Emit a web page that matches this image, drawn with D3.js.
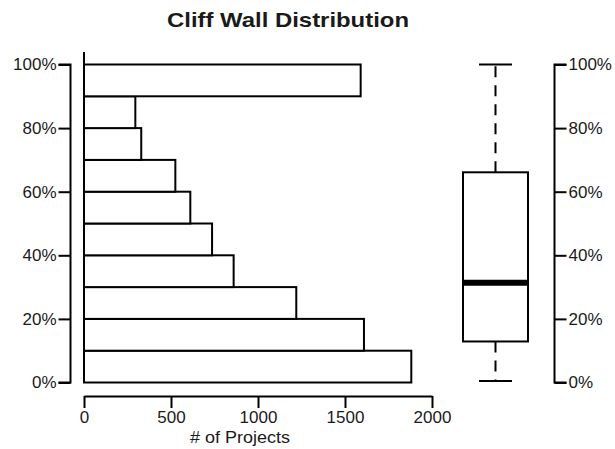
<!DOCTYPE html>
<html>
<head>
<meta charset="utf-8">
<script src="https://cdn.jsdelivr.net/npm/d3@7"></script>
<style>
  html, body { margin: 0; padding: 0; background: #fff; }
  svg { display: block; }
  text { font-family: "Liberation Sans", Arial, Helvetica, sans-serif; fill: #1a1a1a; }
</style>
</head>
<body>
<svg id="chart" width="615" height="449"></svg>
<script>
// ---- data ----
const binStarts = [0, 10, 20, 30, 40, 50, 60, 70, 80, 90];      // % (bin lower edges)
const binWidth = 10;                                             // % per bin
const projectCounts = [1881, 1609, 1220, 860, 736, 611, 525, 329, 295, 1590];
const percentTicks = [0, 20, 40, 60, 80, 100];
const countTicks = [0, 500, 1000, 1500, 2000];
const boxLabels = ["lowerWhisker", "q1", "median", "q3", "upperWhisker"];
const boxValues = [0.5, 12.9, 31.4, 66.1, 100];
const titleText = "Cliff Wall Distribution";
const xAxisTitle = "# of Projects";

// ---- layout ----
const svg = d3.select("#chart");
const ink = "#000";
const plotTop = 52, yTop = 64.5, yBottom = 382.5;
const xLeft = 84, xRight = 432;
const leftAxisX = 70.5, rightAxisX = 554.5, bottomAxisY = 396;
const boxCenter = 495.5, boxHalf = 32.5, capHalf = 16.5;

const y = d3.scaleLinear().domain([0, 100]).range([yBottom, yTop]);
const x = d3.scaleLinear().domain([0, 2000]).range([xLeft, xRight]);

// title
svg.append("text")
  .attr("x", 288).attr("y", 27)
  .attr("text-anchor", "middle")
  .attr("font-size", 21).attr("font-weight", "bold")
  .attr("textLength", 242).attr("lengthAdjust", "spacingAndGlyphs")
  .text(titleText);

// baseline of bars (extends to top of plot region)
svg.append("line")
  .attr("x1", x(0)).attr("x2", x(0))
  .attr("y1", plotTop).attr("y2", y(0))
  .attr("stroke", ink).attr("stroke-width", 2);

// bars
const bars = binStarts.map((s, i) => ({ start: s, count: projectCounts[i] }));
svg.append("g").selectAll("rect")
  .data(bars).join("rect")
  .attr("x", x(0))
  .attr("y", d => y(d.start + binWidth))
  .attr("width", d => x(d.count) - x(0))
  .attr("height", d => y(d.start) - y(d.start + binWidth))
  .attr("fill", "#fff")
  .attr("stroke", ink).attr("stroke-width", 2);

// left axis
const leftAxis = d3.axisLeft(y).tickValues(percentTicks)
  .tickFormat(d => d + "%").tickSizeOuter(0).tickSizeInner(12).tickPadding(2);
const gl = svg.append("g").attr("transform", `translate(${leftAxisX},0)`).call(leftAxis);

// right axis
const rightAxis = d3.axisRight(y).tickValues(percentTicks)
  .tickFormat(d => d + "%").tickSizeOuter(0).tickSizeInner(12).tickPadding(2);
const gr = svg.append("g").attr("transform", `translate(${rightAxisX},0)`).call(rightAxis);

// bottom axis
const bottomAxis = d3.axisBottom(x).tickValues(countTicks)
  .tickSizeOuter(0).tickSizeInner(12).tickPadding(3).tickFormat(d3.format("d"));
const gb = svg.append("g").attr("transform", `translate(0,${bottomAxisY})`).call(bottomAxis);

[gl, gr, gb].forEach(g => {
  g.select(".domain").attr("stroke", ink).attr("stroke-width", 2);
  g.selectAll(".tick line").attr("stroke", ink).attr("stroke-width", 2);
  g.selectAll(".tick text").attr("font-size", 17).attr("fill", "#1a1a1a")
    .attr("font-family", '"Liberation Sans", Arial, sans-serif');
});
gl.select(".domain").attr("d", `M-12,${y(100)}H0V${y(0)}H-12`);
gr.select(".domain").attr("d", `M12,${y(100)}H0V${y(0)}H12`);

svg.append("text")
  .attr("x", 240).attr("y", 443)
  .attr("text-anchor", "middle").attr("font-size", 17)
  .attr("textLength", 100).attr("lengthAdjust", "spacingAndGlyphs")
  .text(xAxisTitle);

// box plot
const bs = {};
boxLabels.forEach((k, i) => bs[k] = boxValues[i]);
const gbox = svg.append("g");
gbox.append("line")
  .attr("x1", boxCenter).attr("x2", boxCenter)
  .attr("y1", y(bs.q3)).attr("y2", y(bs.upperWhisker))
  .attr("stroke", ink).attr("stroke-width", 2).attr("stroke-dasharray", "11,8");
gbox.append("line")
  .attr("x1", boxCenter).attr("x2", boxCenter)
  .attr("y1", y(bs.q1)).attr("y2", y(bs.lowerWhisker))
  .attr("stroke", ink).attr("stroke-width", 2).attr("stroke-dasharray", "11,8");
[bs.upperWhisker, bs.lowerWhisker].forEach(v => {
  gbox.append("line")
    .attr("x1", boxCenter - capHalf).attr("x2", boxCenter + capHalf)
    .attr("y1", y(v)).attr("y2", y(v))
    .attr("stroke", ink).attr("stroke-width", 2);
});
gbox.append("rect")
  .attr("x", boxCenter - boxHalf).attr("width", boxHalf * 2)
  .attr("y", y(bs.q3)).attr("height", y(bs.q1) - y(bs.q3))
  .attr("fill", "#fff").attr("stroke", ink).attr("stroke-width", 2);
gbox.append("line")
  .attr("x1", boxCenter - boxHalf).attr("x2", boxCenter + boxHalf)
  .attr("y1", y(bs.median)).attr("y2", y(bs.median))
  .attr("stroke", ink).attr("stroke-width", 6);
</script>
</body>
</html>
